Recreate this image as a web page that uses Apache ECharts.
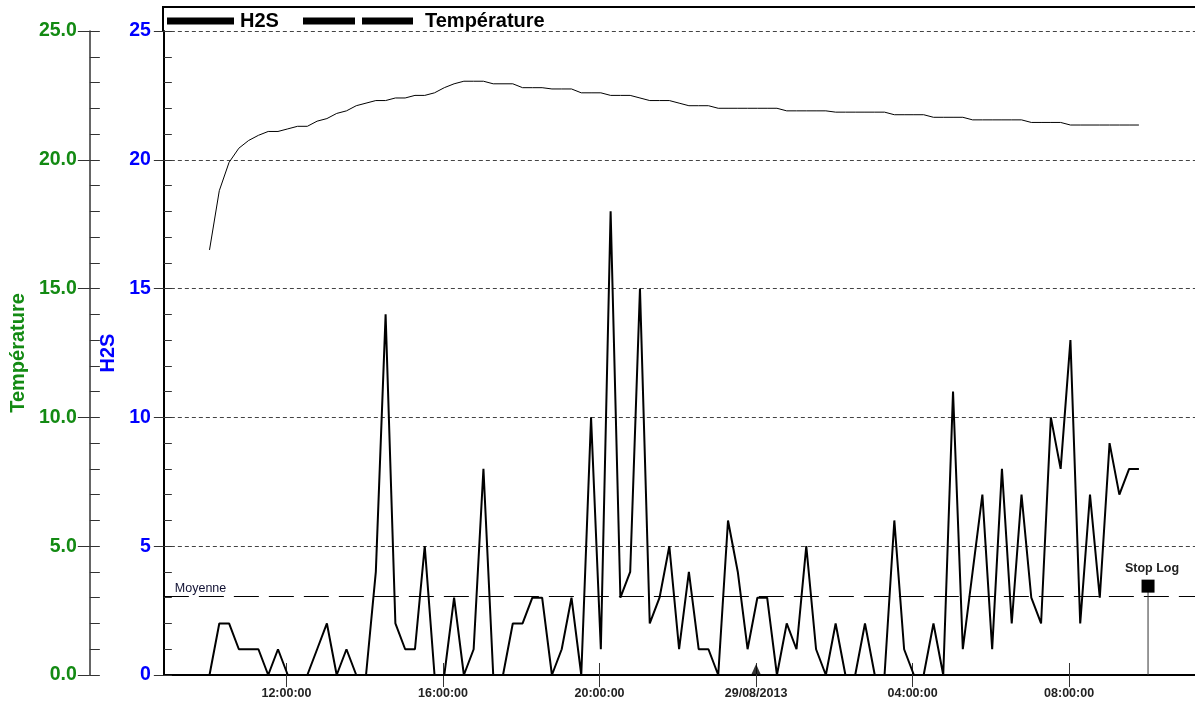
<!DOCTYPE html>
<html>
<head>
<meta charset="utf-8">
<script src="https://cdn.jsdelivr.net/npm/echarts@6/dist/echarts.min.js"></script>
<style>
html,body{margin:0;padding:0;background:#fff;}
#chart{width:1195px;height:702px;}
</style>
</head>
<body>
<div id="chart"></div>
<script>
// ---- data ----
const sampleStart = [2013, 7, 28, 10, 2];   // 28/08/2013 10:02 (local)
const sampleStepMinutes = 15;
const h2sValues = [
  0, 2, 2, 1, 1, 1, 0, 1, 0, 0,
  0, 1, 2, 0, 1, 0, 0, 4, 14, 2,
  1, 1, 5, 0, 0, 3, 0, 1, 8, 0,
  0, 2, 2, 3, 3, 0, 1, 3, 0, 10,
  1, 18, 3, 4, 15, 2, 3, 5, 1, 4,
  1, 1, 0, 6, 4, 1, 3, 3, 0, 2,
  1, 5, 1, 0, 2, 0, 0, 2, 0, 0,
  6, 1, 0, 0, 2, 0, 11, 1, 4, 7,
  1, 8, 2, 7, 3, 2, 10, 8, 13, 2,
  7, 3, 9, 7, 8, 8
];
const temperatureValues = [
  16.5, 18.8, 19.9, 20.45, 20.75, 20.95, 21.1, 21.1, 21.2, 21.3,
  21.3, 21.5, 21.6, 21.8, 21.9, 22.1, 22.2, 22.3, 22.3, 22.4,
  22.4, 22.5, 22.5, 22.6, 22.8, 22.95, 23.05, 23.05, 23.05, 22.95,
  22.95, 22.95, 22.8, 22.8, 22.8, 22.75, 22.75, 22.75, 22.6, 22.6,
  22.6, 22.5, 22.5, 22.5, 22.4, 22.3, 22.3, 22.3, 22.2, 22.1,
  22.1, 22.1, 22.0, 22.0, 22.0, 22.0, 22.0, 22.0, 22.0, 21.9,
  21.9, 21.9, 21.9, 21.9, 21.85, 21.85, 21.85, 21.85, 21.85, 21.85,
  21.75, 21.75, 21.75, 21.75, 21.65, 21.65, 21.65, 21.65, 21.55, 21.55,
  21.55, 21.55, 21.55, 21.55, 21.45, 21.45, 21.45, 21.45, 21.35, 21.35,
  21.35, 21.35, 21.35, 21.35, 21.35, 21.35
];
const xTickTimes = [
  [2013, 7, 28, 12, 0], [2013, 7, 28, 16, 0], [2013, 7, 28, 20, 0],
  [2013, 7, 29, 0, 0], [2013, 7, 29, 4, 0], [2013, 7, 29, 8, 0]
];
const xTickLabels = ['12:00:00', '16:00:00', '20:00:00', '29/08/2013', '04:00:00', '08:00:00'];
const xRange = [[2013, 7, 28, 8, 52], [2013, 7, 29, 11, 13]];
const yTickValues = [0, 5, 10, 15, 20, 25];
const h2sTickLabels = ['0', '5', '10', '15', '20', '25'];
const tempTickLabels = ['0.0', '5.0', '10.0', '15.0', '20.0', '25.0'];
const stopLogTime = [2013, 7, 29, 10, 1];
const stopLogValue = 3.45;
const dayMarkerTime = [2013, 7, 29, 0, 0];
const legendNames = ['H2S', 'Température'];

// ---- build ----
const ts = a => new Date(a[0], a[1], a[2], a[3], a[4]).getTime();
const t0 = ts(sampleStart);
const step = sampleStepMinutes * 60000;
const h2sData = h2sValues.map((v, i) => [t0 + i * step, v]);
const tempData = temperatureValues.map((v, i) => [t0 + i * step, v]);
const moyenne = h2sValues.reduce((a, b) => a + b, 0) / h2sValues.length;
const tickTs = xTickTimes.map(ts);
const xMin = ts(xRange[0]), xMax = ts(xRange[1]);
const stopT = ts(stopLogTime);
const dayT = ts(dayMarkerTime);

const FONT = '"Liberation Sans", Arial, sans-serif';
const GREEN = '#138a13';
const BLUE = '#0000ff';

const chart = echarts.init(document.getElementById('chart'), null, {renderer: 'canvas'});

function xAxisBase(extra) {
  return Object.assign({
    type: 'value', gridIndex: 0, position: 'bottom', min: xMin, max: xMax,
    scale: true, splitLine: {show: false}
  }, extra);
}
function yAxisBase(extra) {
  return Object.assign({
    type: 'value', position: 'left', min: 0, max: 25, interval: 5,
    splitLine: {show: false}
  }, extra);
}

const option = {
  animation: false,
  backgroundColor: '#fff',
  grid: {left: 163, right: -2, top: 31, bottom: 27, containLabel: false},
  xAxis: [
    xAxisBase({
      axisLine: {show: true, onZero: false, lineStyle: {color: '#000', width: 2}},
      axisTick: {show: true, customValues: tickTs, length: 12, lineStyle: {color: '#333', width: 1}},
      axisLabel: {
        show: true, customValues: tickTs, margin: 12,
        color: '#222', fontWeight: 'bold', fontSize: 12.5, fontFamily: FONT,
        formatter: v => { const k = tickTs.indexOf(v); return k >= 0 ? xTickLabels[k] : ''; }
      }
    }),
    xAxisBase({
      axisLine: {show: false, onZero: false},
      axisTick: {show: true, inside: true, customValues: tickTs, length: 12, lineStyle: {color: '#333', width: 1}},
      axisLabel: {show: false}
    })
  ],
  yAxis: [
    yAxisBase({
      name: 'H2S', nameLocation: 'middle', nameGap: 44, nameRotate: 90,
      nameTextStyle: {color: BLUE, fontWeight: 'bold', fontSize: 20, fontFamily: FONT},
      axisLine: {show: true, lineStyle: {color: '#000', width: 2}},
      axisTick: {show: true, length: 10, lineStyle: {color: '#333', width: 1}},
      axisLabel: {
        show: true, margin: 13, color: BLUE, fontWeight: 'bold', fontSize: 19.5, fontFamily: FONT,
        formatter: v => { const k = yTickValues.indexOf(v); return k >= 0 ? h2sTickLabels[k] : ''; }
      },
      splitLine: {show: true, lineStyle: {color: '#444', width: 1, type: [4, 3]}}
    }),
    yAxisBase({
      interval: 1,
      axisLine: {show: false},
      axisTick: {show: true, inside: true, length: 8, lineStyle: {color: '#333', width: 1}},
      axisLabel: {show: false}
    }),
    yAxisBase({
      offset: 74,
      name: 'Température', nameLocation: 'middle', nameGap: 59, nameRotate: 90,
      nameTextStyle: {color: GREEN, fontWeight: 'bold', fontSize: 20, fontFamily: FONT},
      axisLine: {show: true, lineStyle: {color: '#333', width: 1.5}},
      axisTick: {show: true, length: 12, lineStyle: {color: '#333', width: 1}},
      axisLabel: {
        show: true, margin: 13, color: GREEN, fontWeight: 'bold', fontSize: 19.5, fontFamily: FONT,
        formatter: v => { const k = yTickValues.indexOf(v); return k >= 0 ? tempTickLabels[k] : ''; }
      }
    }),
    yAxisBase({
      offset: 74, interval: 1,
      axisLine: {show: false},
      axisTick: {show: true, inside: true, length: 10, lineStyle: {color: '#333', width: 1}},
      axisLabel: {show: false}
    })
  ],
  series: [
    {
      name: legendNames[0], type: 'line', xAxisIndex: 0, yAxisIndex: 0,
      data: h2sData, symbol: 'none', z: 4,
      lineStyle: {color: '#000', width: 2},
      markLine: {
        silent: true, symbol: 'none', animation: false,
        data: [{yAxis: moyenne}],
        lineStyle: {color: '#000', width: 1.2, type: [25, 10]},
        label: {
          show: true, formatter: 'Moyenne', position: 'insideStartTop', distance: [11, 1],
          color: '#111133', fontSize: 12.5, fontFamily: FONT
        }
      }
    },
    {
      name: legendNames[1], type: 'line', xAxisIndex: 0, yAxisIndex: 2,
      data: tempData, symbol: 'none', z: 3,
      lineStyle: {color: '#000', width: 1}
    },
    {
      name: 'Stop Log', type: 'line', xAxisIndex: 0, yAxisIndex: 0, z: 5,
      lineStyle: {color: '#333', width: 1},
      itemStyle: {color: '#000'},
      data: [
        {value: [stopT, 0], symbol: 'none'},
        {value: [stopT, stopLogValue], symbol: 'rect', symbolSize: 13,
          label: {show: true, position: 'top', distance: 5, offset: [4, 0], formatter: 'Stop Log',
            color: '#222', fontWeight: 'bold', fontSize: 12.5, fontFamily: FONT}}
      ]
    },
    {
      name: 'day', type: 'scatter', xAxisIndex: 0, yAxisIndex: 0, z: 6,
      data: [[dayT, 0]], symbol: 'triangle', symbolSize: [9, 10], symbolOffset: [0, -6],
      itemStyle: {color: '#000'}
    }
  ],
  graphic: [
    {type: 'polyline', shape: {points: [[163, 31], [163, 7], [1200, 7]]},
      style: {stroke: '#000', lineWidth: 2, fill: null}, z: 10},
    {type: 'rect', shape: {x: 167, y: 17.5, width: 67, height: 7}, style: {fill: '#000'}, z: 10},
    {type: 'text', x: 240, y: 21.5, style: {text: legendNames[0], fill: '#000',
      font: 'bold 20px ' + FONT, verticalAlign: 'middle'}, z: 10},
    {type: 'rect', shape: {x: 303, y: 17.5, width: 52, height: 7}, style: {fill: '#000'}, z: 10},
    {type: 'rect', shape: {x: 362, y: 17.5, width: 51, height: 7}, style: {fill: '#000'}, z: 10},
    {type: 'text', x: 425, y: 21.5, style: {text: legendNames[1], fill: '#000',
      font: 'bold 20px ' + FONT, verticalAlign: 'middle'}, z: 10}
  ]
};
chart.setOption(option);
</script>
</body>
</html>
